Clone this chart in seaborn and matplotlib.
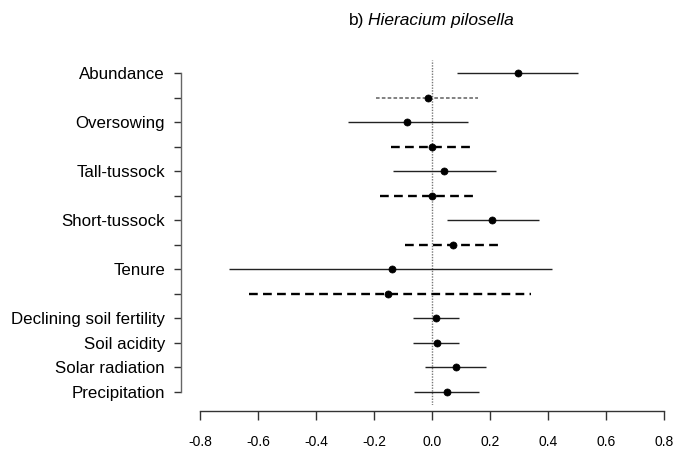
import matplotlib
matplotlib.use("Agg")
import matplotlib.pyplot as plt
import seaborn as sns
import numpy as np
import pandas as pd

# ---- data ----
row_labels = ["Abundance", "", "Oversowing", "", "Tall-tussock", "", "Short-tussock", "",
              "Tenure", "", "Declining soil fertility", "Soil acidity", "Solar radiation",
              "Precipitation"]
estimate = [0.295, -0.016, -0.085, 0.001, 0.042, -0.001, 0.208, 0.071,
            -0.138, -0.151, 0.014, 0.018, 0.082, 0.052]
lower = [0.086, -0.194, -0.290, -0.142, -0.134, -0.179, 0.052, -0.095,
         -0.702, -0.633, -0.067, -0.067, -0.023, -0.062]
upper = [0.503, 0.159, 0.122, 0.137, 0.220, 0.148, 0.370, 0.232,
         0.414, 0.341, 0.091, 0.094, 0.184, 0.162]
interval_kind = ["main", "interaction", "main", "change", "main", "change", "main", "change",
                 "main", "change", "main", "main", "main", "main"]
x_ticks = [-0.8, -0.6, -0.4, -0.2, 0.0, 0.2, 0.4, 0.6, 0.8]
x_tick_labels = ["-0.8", "-0.6", "-0.4", "-0.2", "0.0", "0.2", "0.4", "0.6", "0.8"]

df = pd.DataFrame({"label": row_labels, "est": estimate, "lo": lower, "hi": upper,
                   "kind": interval_kind})
df["pos"] = np.arange(len(df))

sns.set_style("white")
plt.rcParams["font.family"] = ["Liberation Sans", "DejaVu Sans"]
plt.rcParams["lines.scale_dashes"] = False
plt.rcParams["text.color"] = "black"
plt.rcParams["xtick.color"] = "black"
plt.rcParams["ytick.color"] = "black"

W, H = 675, 451
fig = plt.figure(figsize=(W / 100, H / 100), dpi=100)
left_px, right_px, top_px, bot_px = 181, 670, 60.3, 404.7
ax = fig.add_axes([left_px / W, 1 - bot_px / H, (right_px - left_px) / W, (bot_px - top_px) / H])

xmin = -0.866
xmax = xmin + (right_px - left_px) / 290.0
ax.set_xlim(xmin, xmax)
ax.set_ylim(13.52, -0.52)

styles = {
    "main": dict(color="#222222", lw=1.0, ls="solid"),
    "interaction": dict(color="#777777", lw=1.3, ls=(0, (2.6, 1.6))),
    "change": dict(color="black", lw=1.7, ls=(0, (6.3, 3.8))),
}
for _, r in df.iterrows():
    st = styles[r["kind"]]
    ax.hlines(r["pos"], r["lo"], r["hi"], colors=st["color"], linewidth=st["lw"],
              linestyles=[st["ls"]], zorder=2)

ax.axvline(0, color="#777777", lw=1.0, ls=(0, (1.0, 1.0)), zorder=1)

sns.scatterplot(data=df, x="est", y="pos", color="black", s=26, edgecolor="black",
                linewidth=0.5, ax=ax, zorder=3, legend=False)

ax.set_xlabel("")
ax.set_ylabel("")
ax.set_yticks(df["pos"])
ax.set_yticklabels(df["label"], fontsize=12.2, color="black")
ax.set_xticks(x_ticks)
ax.set_xticklabels(x_tick_labels, fontsize=10.5, color="black")

for s in ["top", "right"]:
    ax.spines[s].set_visible(False)
ax.spines["left"].set_bounds(0, 13)
ax.spines["left"].set_color("#666666")
ax.spines["left"].set_linewidth(1.0)
ax.spines["bottom"].set_position(("outward", 4.5))
ax.spines["bottom"].set_bounds(-0.8, 0.8)
ax.spines["bottom"].set_color("#333333")
ax.spines["bottom"].set_linewidth(1.0)
ax.tick_params(axis="y", direction="out", length=5, width=1.0, color="#333333", pad=6.5, left=True)
ax.tick_params(axis="x", direction="out", length=6.5, width=1.0, color="#333333", pad=11, bottom=True)

fig.text(364 / W, 1 - 21 / H, "b)", ha="right", va="center", fontsize=12.5, color="black")
fig.text(368 / W, 1 - 21 / H, "Hieracium pilosella", ha="left", va="center",
         fontsize=12.5, style="italic", color="black")

fig.savefig("out.png", dpi=100)
